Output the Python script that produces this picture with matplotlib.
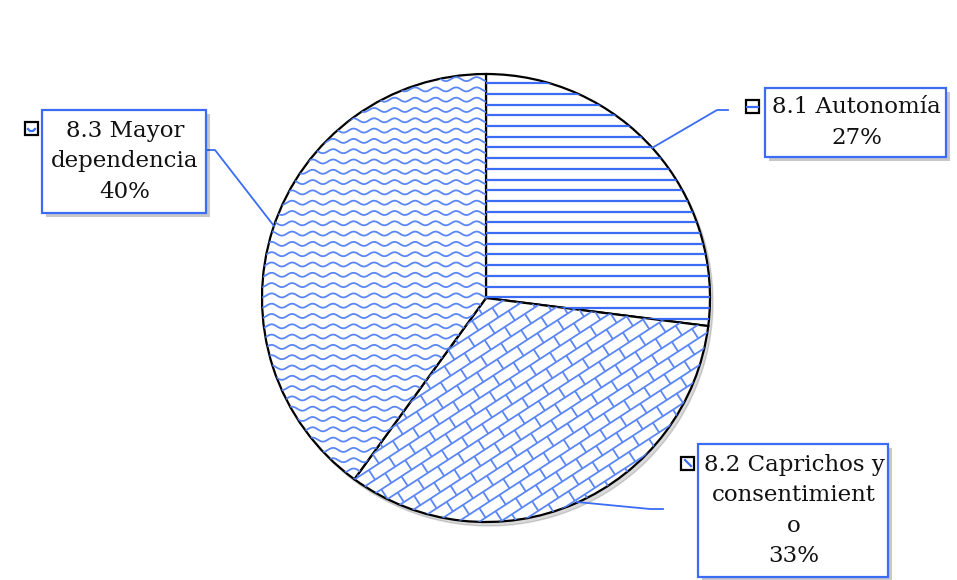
import matplotlib
matplotlib.use("Agg")
import matplotlib.pyplot as plt
import numpy as np
from matplotlib.patches import Rectangle
from matplotlib.collections import LineCollection

# datos
categorias = ['8.1 Autonomía', '8.2 Caprichos y\nconsentimient\no', '8.3 Mayor\ndependencia']
porcentajes = [27, 33, 40]

W, H = 957, 580
azul = '#3a6cf5'
azul_claro = '#5a86f6'

fig = plt.figure(figsize=(W / 100, H / 100), dpi=100)
ax = fig.add_axes([0, 0, 1, 1])

cx, cy, r = 486, H - 298, 224  # centro y radio en pixeles

# sombra del pastel
sombra = plt.Circle((cx + 3, cy - 4), r, color='#000000', alpha=0.15, zorder=0)
ax.add_patch(sombra)

wedges, _ = ax.pie(porcentajes, startangle=90, counterclock=False, center=(cx, cy), radius=r,
                   colors=['white'] * 3, frame=True,
                   wedgeprops=dict(edgecolor='black', linewidth=1.6))
ax.set_xlim(0, W)
ax.set_ylim(0, H)
ax.set_aspect('equal')
ax.axis('off')


def add_pattern(segs, wedge, color, lw=1.4):
    lc = LineCollection(segs, colors=color, linewidths=lw, zorder=3)
    ax.add_collection(lc)
    lc.set_clip_path(wedge)


# 8.1 lineas horizontales
ys = np.arange(cy - r, cy + r, 10.7)
add_pattern([[(cx - r, y), (cx + r, y)] for y in ys], wedges[0], azul, lw=1.6)

# 8.2 ladrillo diagonal
ang = np.deg2rad(33)
u_dir = np.array([np.cos(ang), np.sin(ang)])
v_dir = np.array([-np.sin(ang), np.cos(ang)])
esp, largo = 11.5, 24
segs = []
c0 = np.array([cx, cy])
for k in range(-30, 31):
    v = k * esp
    segs.append([tuple(c0 + v * v_dir - 400 * u_dir), tuple(c0 + v * v_dir + 400 * u_dir)])
    off = (k % 2) * largo / 2
    for j in range(-20, 21):
        u = j * largo + off
        segs.append([tuple(c0 + v * v_dir + u * u_dir), tuple(c0 + (v + esp) * v_dir + u * u_dir)])
add_pattern(segs, wedges[1], azul_claro, lw=1.3)

# 8.3 ondas
xs = np.linspace(cx - r, cx + r, 900)
segs = []
for y in np.arange(cy - r, cy + r, 10.3):
    yy = y + 2.0 * np.sin(2 * np.pi * xs / 20.5)
    segs.append(np.column_stack([xs, yy]))
add_pattern(segs, wedges[2], azul_claro, lw=1.3)


def caja(x0, y0, x1, y1, texto):
    # coordenadas en pixeles (y hacia abajo)
    ax.add_patch(Rectangle((x0 + 4, H - y1 - 4), x1 - x0, y1 - y0, facecolor='#000000',
                           alpha=0.22, edgecolor='none', zorder=4))
    ax.add_patch(Rectangle((x0, H - y1), x1 - x0, y1 - y0, facecolor='white',
                           edgecolor=azul, linewidth=1.6, zorder=5))
    ax.text((x0 + x1) / 2 + 1, H - (y0 + y1) / 2, texto, ha='center', va='center',
            fontsize=16.5, family='DejaVu Serif', linespacing=1.5, zorder=6, color='#111111')


def clave(x0, y0, tipo):
    s = 13
    ax.add_patch(Rectangle((x0, H - y0 - s), s, s, facecolor='white', edgecolor='black',
                           linewidth=1.6, zorder=5))
    if tipo == 0:
        ax.plot([x0 + 1, x0 + s - 1], [H - y0 - s / 2, H - y0 - s / 2], color=azul, lw=1.6, zorder=6)
    elif tipo == 1:
        ax.plot([x0 + 4, x0 + s - 3], [H - y0 - 3, H - y0 - s + 4], color=azul, lw=1.6, zorder=6)
    else:
        ax.plot([x0 + 3, x0 + 5, x0 + 8, x0 + 10], [H - y0 - 7, H - y0 - 9, H - y0 - 9, H - y0 - 7],
                color=azul, lw=1.6, zorder=6)


def linea(pts):
    ax.plot([p[0] for p in pts], [H - p[1] for p in pts], color=azul, lw=1.3, zorder=4)


etiquetas = [f'{c}\n{p}%' for c, p in zip(categorias, porcentajes)]

# 8.1
linea([(652, 148), (717, 110), (728, 110)])
clave(746, 100, 0)
caja(765, 88, 946, 157, etiquetas[0])

# 8.2
linea([(577, 502), (650, 509), (663, 509)])
clave(681, 457, 1)
caja(698, 444, 888, 577, etiquetas[1])

# 8.3
linea([(204, 150), (215, 150), (274, 226)])
clave(25, 122, 2)
caja(42, 110, 206, 213, etiquetas[2])

fig.savefig('out.png', dpi=100, facecolor='white')
